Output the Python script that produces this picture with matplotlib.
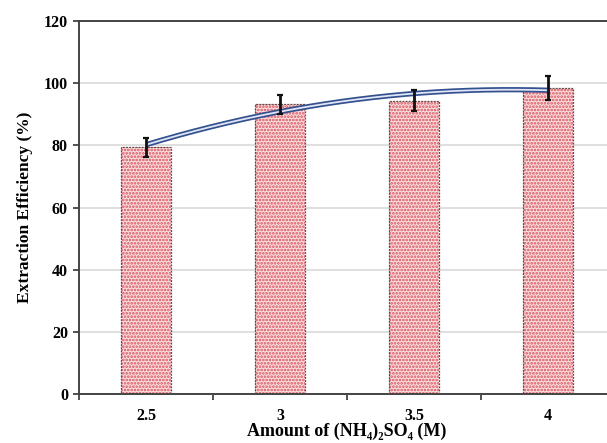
import numpy as np
import matplotlib
matplotlib.use("Agg")
import matplotlib.pyplot as plt

# data
conc = [2.5, 3, 3.5, 4]
conc_labels = ["2.5", "3", "3.5", "4"]
efficiency = [79.4, 93.2, 94.3, 98.5]
err = [3.0, 3.1, 3.4, 3.8]

plt.rcParams["font.family"] = ["Liberation Serif", "DejaVu Serif"]
plt.rcParams["font.weight"] = "bold"
plt.rcParams["hatch.linewidth"] = 1.3

fig = plt.figure(figsize=(6.07, 4.43), dpi=100)
ax = fig.add_axes([79 / 607, 49 / 443, 536 / 607, 373 / 443])

pos = np.arange(len(conc))
ax.bar(pos, efficiency, width=0.37, color="#f9dfe0", edgecolor="#d9505a",
       hatch=".....", linewidth=0, zorder=2)
ax.bar(pos, efficiency, width=0.37, fill=False, edgecolor="#5a4a4a",
       linewidth=0.9, linestyle=(0, (1.5, 1)), zorder=3)
ax.errorbar(pos, efficiency, yerr=err, fmt="none", ecolor="#111111",
            elinewidth=2.0, capsize=2, capthick=1.6, zorder=6)

# 2nd order polynomial trendline through the bar values
coef = np.polyfit(conc, efficiency, 2)
xs = np.linspace(conc[0], conc[-1], 200)
ys = np.polyval(coef, xs)
xp = (xs - conc[0]) / (conc[1] - conc[0])
ax.plot(xp, ys, color="#34508f", lw=3.8, zorder=4, solid_capstyle="butt")
ax.plot(xp, ys, color="#dfe6f5", lw=1.3, zorder=5, solid_capstyle="butt")

ax.set_xlim(-0.5, 3.5)
ax.set_ylim(0, 120)
ax.set_yticks(range(0, 121, 20))
ax.set_xticks(pos)
ax.set_xticklabels(conc_labels)
ax.set_xticks(np.arange(-0.5, 3.6, 1), minor=True)
ax.tick_params(axis="x", which="major", length=0, pad=10, labelsize=11.5)
ax.tick_params(axis="x", which="minor", length=4, width=1.2, color="#333333")
ax.tick_params(axis="y", length=4, width=1.2, color="#333333", labelsize=11.5, pad=4)
for lbl in ax.get_xticklabels() + ax.get_yticklabels():
    lbl.set_fontweight("bold")

ax.yaxis.grid(True, color="#d9d9d9", lw=1.2, zorder=0)
ax.set_axisbelow(True)
for side in ("left", "bottom", "top"):
    ax.spines[side].set_color("#444444")
    ax.spines[side].set_linewidth(1.4)
ax.spines["right"].set_visible(False)

ax.set_xlabel("Amount of (NH\u2084)\u2082SO\u2084 (M)", fontsize=13,
              fontweight="bold", labelpad=-1)
ax.set_ylabel("Extraction Efficiency (%)", fontsize=12.5, fontweight="bold",
              labelpad=8)

fig.savefig("out.png", dpi=100)
